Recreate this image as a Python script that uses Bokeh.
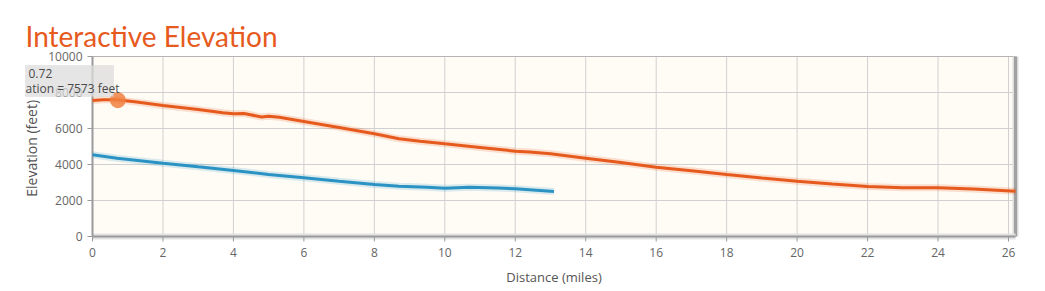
import math
from bokeh.plotting import figure
from bokeh.models import Range1d, Label, BoxAnnotation
from bokeh.core.properties import value
from bokeh.embed import file_html
from bokeh.resources import INLINE

# ---- data ----
orange_miles = [0.0, 0.3, 0.7, 1.2, 2.0, 3.0, 3.7, 4.0, 4.3, 4.8, 5.0, 5.3, 6.0, 7.0, 8.0, 8.7, 9.3, 10.0, 11.0, 12.0, 12.4, 13.0, 14.0, 15.0, 16.0, 17.0, 18.0, 19.0, 20.0, 21.0, 22.0, 23.0, 24.0, 25.0, 26.2]
orange_elev = [7560, 7600, 7594, 7480, 7278, 7050, 6880, 6815, 6830, 6640, 6680, 6620, 6389, 6060, 5704, 5426, 5290, 5148, 4950, 4741, 4700, 4593, 4352, 4110, 3852, 3650, 3444, 3250, 3074, 2920, 2778, 2704, 2710, 2640, 2519]
blue_miles = [0.0, 0.7, 2.0, 3.0, 4.0, 5.0, 6.0, 7.0, 8.0, 8.7, 9.5, 10.0, 10.7, 11.5, 12.0, 13.1]
blue_elev = [4537, 4352, 4074, 3870, 3667, 3450, 3259, 3070, 2889, 2796, 2740, 2685, 2741, 2700, 2648, 2500]
hover_mile = 0.72
hover_elev = 7573
x_ticks = [0, 2, 4, 6, 8, 10, 12, 14, 16, 18, 20, 22, 24, 26]
x_tick_labels = [str(t) for t in x_ticks]
y_ticks = [0, 2000, 4000, 6000, 8000, 10000]
y_tick_labels = ["0", "2000", "4000", "6000", "8000", "10000"]
x_max = 26.2
y_max = 10000
title_text = "Interactive Elevation"
x_label = "Distance (miles)"
y_label = "Elevation  (feet)"
tip_line1 = "0.72"
tip_line2 = "ation = 7573 feet"

# ---- styling / layout (pixels) ----
ORANGE = "#e65a1e"
BLUE = "#2a93c4"
GRID = "#d0d0d0"
AXIS = "#9a9a9a"
TXT = "#666666"
CREAM = "#fffcf6"

W, H = 1045, 291
X0_PX, X26_PX = 92, 1008      # pixel columns of 0 and 26 miles
Y0_PX, YTOP_PX = 236, 56      # pixel rows (from top) of 0 and 10000 feet
px_per_mile = (X26_PX - X0_PX) / 26
px_per_ft = (Y0_PX - YTOP_PX) / y_max
x_start = -X0_PX / px_per_mile
x_end = (W - X0_PX) / px_per_mile
y_start = -(H - Y0_PX) / px_per_ft
y_end = y_max + YTOP_PX / px_per_ft

p = figure(width=W, height=H, output_backend="svg", toolbar_location=None, title=None,
           x_range=Range1d(x_start, x_end), y_range=Range1d(y_start, y_end),
           x_axis_type=None, y_axis_type=None,
           min_border_left=0, min_border_right=0, min_border_top=0, min_border_bottom=0,
           background_fill_color="white", border_fill_color="white")
p.outline_line_color = None

# plot-area background
p.add_layout(BoxAnnotation(left=0, right=x_max, bottom=0, top=y_max, fill_color=CREAM,
                           fill_alpha=1, line_color=None, level="underlay"))

nx, ny = len(x_ticks), len(y_ticks)
# grid lines
p.segment(x0=x_ticks, y0=[0] * nx, x1=x_ticks, y1=[y_max] * nx, line_color=GRID, line_width=1)
p.segment(x0=[0] * ny, y0=y_ticks, x1=[x_max] * ny, y1=y_ticks, line_color=GRID, line_width=1)
p.segment(x0=[0], y0=[y_max], x1=[x_max], y1=[y_max], line_color="#b4b4b4", line_width=1)

# right border with soft shadow
p.segment(x0=[x_max], y0=[0], x1=[x_max], y1=[y_max], line_color="#dddddd", line_width=6)
p.segment(x0=[x_max], y0=[0], x1=[x_max], y1=[y_max], line_color="#a0a0a0", line_width=3)

# x axis
tick_dy = 5 / px_per_ft
p.segment(x0=[0], y0=[0], x1=[x_max], y1=[0], line_color="#e2e2e2", line_width=6)
p.segment(x0=[0], y0=[0], x1=[x_max], y1=[0], line_color=AXIS, line_width=2)
p.segment(x0=x_ticks, y0=[-tick_dy] * nx, x1=x_ticks, y1=[0] * nx, line_color=AXIS, line_width=1)
p.text(x=x_ticks, y=[0] * nx, text=x_tick_labels, y_offset=11, text_align="center",
       text_baseline="top", text_font=value("Open Sans"), text_font_size="12px", text_color=TXT)
p.text(x=[x_max / 2], y=[0], text=[x_label], y_offset=40, text_align="center",
       text_baseline="middle", text_font=value("Open Sans"), text_font_size="13px",
       text_color="#555555")

# y axis
tick_dx = 5 / px_per_mile
p.segment(x0=[0], y0=[0], x1=[0], y1=[y_max], line_color=AXIS, line_width=2)
p.segment(x0=[-tick_dx] * ny, y0=y_ticks, x1=[0] * ny, y1=y_ticks, line_color=AXIS, line_width=1)
p.text(x=[0] * ny, y=y_ticks, text=y_tick_labels, x_offset=-10, text_align="right",
       text_baseline="middle", text_font=value("Open Sans"), text_font_size="12px", text_color=TXT)
p.text(x=[0], y=[y_max / 2], text=[y_label], x_offset=-61, angle=math.pi / 2,
       text_align="center", text_baseline="middle", text_font=value("Open Sans"),
       text_font_size="14px", text_color="#555555")

# lines with a soft glow
p.line(orange_miles, orange_elev, line_color=ORANGE, line_width=7, line_alpha=0.18)
p.line(orange_miles, orange_elev, line_color=ORANGE, line_width=3)
p.line(blue_miles, blue_elev, line_color=BLUE, line_width=7, line_alpha=0.18)
p.line(blue_miles, blue_elev, line_color=BLUE, line_width=3)

p.scatter([hover_mile], [hover_elev], size=16, fill_color="#f08040", fill_alpha=0.85, line_color=None)

# title
p.add_layout(Label(x=25, y=H - 35, x_units="screen", y_units="screen", text=title_text,
                   text_baseline="alphabetic", text_font="Lato", text_font_size="28px",
                   text_color=ORANGE))

# hover tooltip (screen units; frame = whole canvas)
p.add_layout(BoxAnnotation(left=25, right=113, bottom=H - 96, top=H - 65,
                           left_units="screen", right_units="screen",
                           bottom_units="screen", top_units="screen",
                           fill_color="#dcdcdc", fill_alpha=0.75, line_color="#cccccc"))
p.add_layout(Label(x=28, y=H - 73, x_units="screen", y_units="screen", text=tip_line1,
                   text_baseline="middle", text_font="Open Sans", text_font_size="12px",
                   text_color="#4a4a4a"))
p.add_layout(Label(x=25, y=H - 88, x_units="screen", y_units="screen", text=tip_line2,
                   text_baseline="middle", text_font="Open Sans", text_font_size="12px",
                   text_color="#4a4a4a"))

open("out.html", "w").write(file_html(p, INLINE))
